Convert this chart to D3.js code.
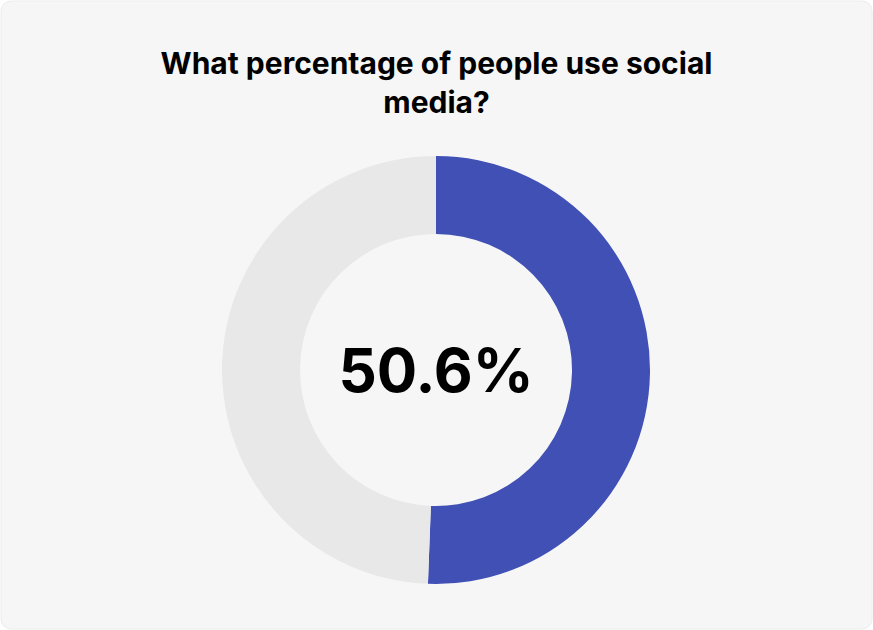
<!DOCTYPE html>
<html>
<head>
<meta charset="utf-8">
<script src="https://cdn.jsdelivr.net/npm/d3@7"></script>
<style>
  html, body { margin: 0; padding: 0; background: #fff; }
  svg { display: block; }
</style>
</head>
<body>
<div id="container"></div>
<script>
// data
const categories = ['Use social media', 'Do not use'];
const values = [50.6, 49.4];
const colors = ['#4050B5', '#E8E8E8'];
const titleLines = ['What percentage of people use social', 'media?'];
const centerLabel = '50.6%';

const width = 873, height = 630;
const cx = 436, cy = 370;
const outerR = 214, innerR = 136;

const svg = d3.select('#container')
    .append('svg')
    .attr('width', width)
    .attr('height', height);

// card background
svg.append('rect')
    .attr('x', 1).attr('y', 1)
    .attr('width', width - 2).attr('height', height - 2)
    .attr('rx', 10)
    .attr('fill', '#F6F6F6')
    .attr('stroke', '#ECECEC');

// title
svg.append('text')
    .attr('text-anchor', 'middle')
    .attr('font-family', 'Inter, sans-serif')
    .attr('font-weight', 700)
    .attr('font-size', 30)
    .attr('fill', '#000')
    .selectAll('tspan')
    .data(titleLines)
    .join('tspan')
    .attr('x', width / 2)
    .attr('y', (d, i) => 74 + i * 39)
    .text(d => d);

// donut
const pie = d3.pie().sort(null).value(d => d.value);
const arc = d3.arc().innerRadius(innerR).outerRadius(outerR);
const data = categories.map((c, i) => ({name: c, value: values[i]}));

const g = svg.append('g').attr('transform', `translate(${cx},${cy})`);
g.selectAll('path')
    .data(pie(data))
    .join('path')
    .attr('d', arc)
    .attr('fill', (d, i) => colors[i]);

// center label
g.append('text')
    .attr('text-anchor', 'middle')
    .attr('y', 22)
    .attr('font-family', 'Inter, sans-serif')
    .attr('font-weight', 700)
    .attr('font-size', 60)
    .attr('fill', '#000')
    .text(centerLabel);
</script>
</body>
</html>
